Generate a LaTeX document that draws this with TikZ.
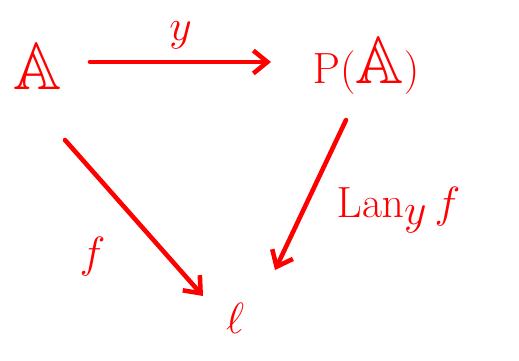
\documentclass[tikz,border=0pt]{standalone}
\usepackage{amssymb}
\usetikzlibrary{arrows.meta, calc}

\begin{document}
\begin{tikzpicture}[x=0.02cm, y=-0.02cm, >={Straight Barb[length=8pt,width=13pt]},
  mapline/.style={->, draw=red, line width=2.6pt, line cap=round},
  objnode/.style={text=red, font=\fontsize{38}{44}\selectfont},
  maplabel/.style={text=red, font=\fontsize{32}{36}\selectfont}]
\useasboundingbox (0,0) rectangle (519,360);

% Objects
\node[objnode] (A) at (38,66)  {$\mathbb{A}$};
\node[objnode] (P) at (366,66) {$\mathrm{P}(\mathbb{A})$};
\node[objnode, font=\fontsize{46}{50}\selectfont] (E) at (235,318) {$\ell$};

% Yoneda embedding
\draw[mapline] ($(A)+(52,-4)$) -- node[maplabel, above=3pt] {$y$} ($(P)+(-95,-4)$);

% Triangle sides
\draw[mapline] ($(A)+(27,74)$) -- node[maplabel, pos=0.75, left=1.1cm] {$f$} ($(E)+(-32,-22)$);
\draw[mapline] ($(P)+(-20,54)$) -- node[maplabel, pos=0.6, right=0.5cm, font=\fontsize{38}{42}\selectfont] {$\mathrm{Lan}_y\, f$} ($(E)+(40,-48)$);

\end{tikzpicture}
\end{document}
